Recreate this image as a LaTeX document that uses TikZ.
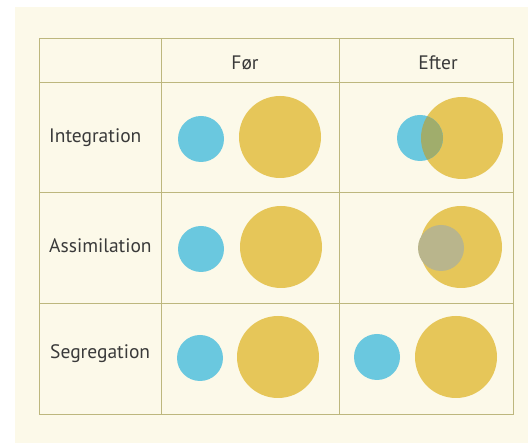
\documentclass[tikz,border=0pt]{standalone}
\usepackage{fontspec}
\setmainfont{PT Sans}
\usepackage{xcolor}
\definecolor{paper}{HTML}{FCF9E9}
\definecolor{gridline}{HTML}{BDB77E}
\definecolor{dotblue}{HTML}{6AC8DF}
\definecolor{dotyellow}{HTML}{E6C659}
\definecolor{dotgrey}{HTML}{B9B58C}
\definecolor{dotmix}{HTML}{A0AD6C}
\definecolor{labeltext}{HTML}{3A3A3A}

\tikzset{
    small/.style = {circle, fill = dotblue, inner sep = 0pt, minimum size = 46pt},
    large/.style = {circle, fill = dotyellow, inner sep = 0pt, minimum size = 82pt},
    label/.style = {text = labeltext, font = \fontsize{19.5}{22}\selectfont, inner sep = 0pt}
}

\begin{document}
\begin{tikzpicture}[x = 1pt, y = -1pt]
        \useasboundingbox (0, 0) rectangle (528, 443);
        \fill [white] (0, 0) rectangle (528, 443);
        \fill [paper] (15, 7) rectangle (528, 443);

        % Table
        \draw [gridline, line width = 1pt] (39, 39) rectangle (513, 415);
        \draw [gridline, line width = 1pt] (161, 39) -- (161, 415);
        \draw [gridline, line width = 1pt] (339, 39) -- (339, 415);
        \draw [gridline, line width = 1pt] (39, 83) -- (513, 83);
        \draw [gridline, line width = 1pt] (39, 193) -- (513, 193);
        \draw [gridline, line width = 1pt] (39, 304) -- (513, 304);

        % Header
        \node [label, anchor = base] (before) at (245, 70) {Før};
        \node [label, anchor = base] (after) at (438, 70) {Efter};

        % Row labels
        \node [label, anchor = base west] (integ) at (49, 143) {Integration};
        \node [label, anchor = base west] (assim) at (49, 253) {Assimilation};
        \node [label, anchor = base west] (segr) at (50, 359) {Segregation};

        % Integration
        \node [small] (ib1) at (201, 139) {};
        \node [large] (iy1) at (280, 137) {};
        \node [large] (iy2) at (462, 138) {};
        \node [small] (ib2) at (420, 138) {};
        \begin{scope}
            \clip (420, 138) circle (23pt);
            \fill [dotmix] (462, 138) circle (41pt);
        \end{scope}

        % Assimilation
        \node [small] (ab1) at (201, 249) {};
        \node [large] (ay1) at (281, 247) {};
        \node [large] (ay2) at (461, 247) {};
        \node [small, fill = dotgrey] (ab2) at (441, 248) {};

        % Segregation
        \node [small] (sb1) at (200, 358) {};
        \node [large] (sy1) at (278, 357) {};
        \node [small] (sb2) at (377, 357) {};
        \node [large] (sy2) at (456, 357) {};

    \end{tikzpicture}
\end{document}
